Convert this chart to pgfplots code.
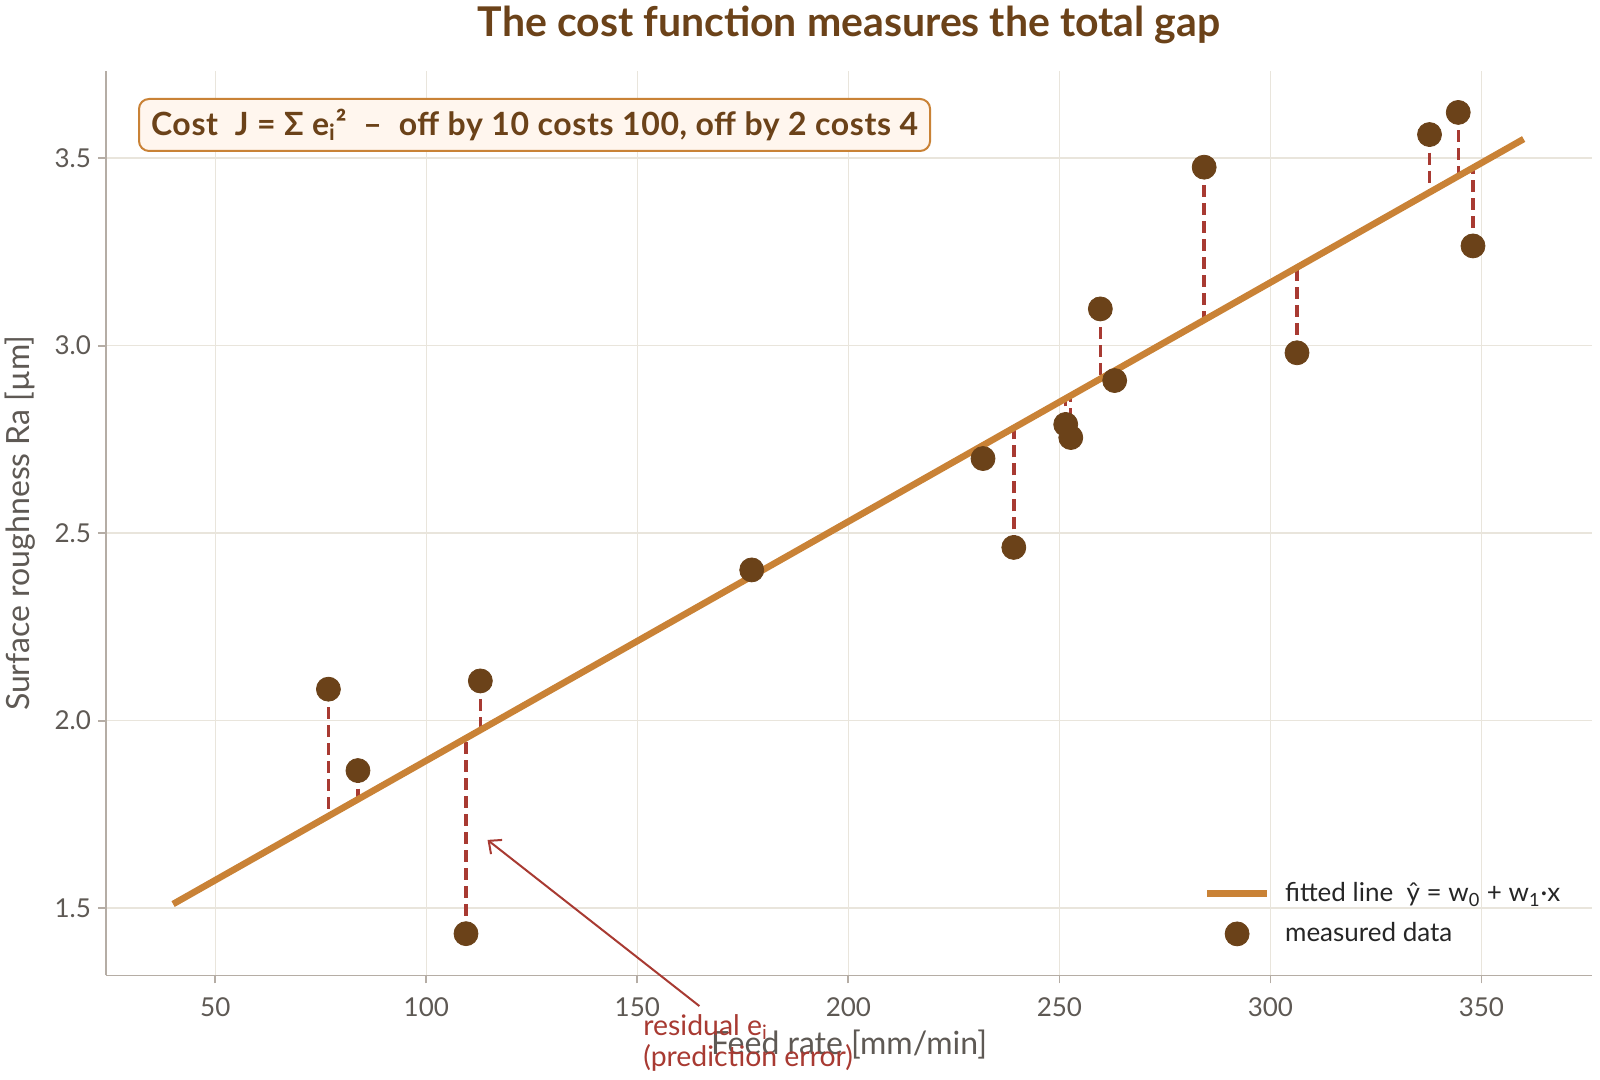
\documentclass[border=0pt]{standalone}
\usepackage{fontspec}
\setmainfont{Lato}
\usepackage{pgfplots}
\pgfplotsset{compat=1.18}
\usetikzlibrary{arrows.meta}

\definecolor{dotbrown}{HTML}{6B4219}
\definecolor{fitorange}{HTML}{C98236}
\definecolor{residred}{HTML}{A83A32}
\definecolor{gridc}{HTML}{E9E5DC}
\definecolor{spinec}{HTML}{B5ADA5}
\definecolor{tickc}{HTML}{5E5954}
\definecolor{boxfill}{HTML}{FFF6EE}

\pgfplotsset{
  linelegend/.style={legend image code/.code={\draw[##1] (0pt,0pt) -- (30pt,0pt); \path[draw=none,fill=none] (0pt,0pt) -- (37pt,0pt);}},
  dotlegend/.style={legend image code/.code={\draw[mark repeat=2,mark phase=2,##1] plot coordinates {(0pt,0pt)(15pt,0pt)(30pt,0pt)}; \path[draw=none,fill=none] (0pt,0pt) -- (37pt,0pt);}},
}

\begin{document}
\begin{tikzpicture}
\useasboundingbox (0,0) rectangle (800pt,540pt);
\begin{axis}[
  at={(53pt,52.25pt)}, anchor=south west,
  scale only axis, width=743pt, height=452.25pt,
  xmin=24.1, xmax=376.2, ymin=1.3205, ymax=3.7325,
  axis x line*=bottom, axis y line*=left,
  axis line style={spinec, line width=0.9pt},
  xtick={50,100,...,350},
  ytick={1.5,2.0,2.5,3.0,3.5},
  yticklabel style={/pgf/number format/.cd, fixed, fixed zerofill, precision=1},
  xticklabel style={yshift=-3.5pt},
  /pgf/number format/assume math mode=true,
  tick align=outside, major tick length=4pt,
  tick style={spinec, line width=0.9pt},
  ticklabel style={font=\fontsize{13}{15}\selectfont, text=tickc},
  grid=major, major grid style={gridc, line width=0.8pt},
  xlabel={Feed rate [mm/min]},
  ylabel={Surface roughness Ra [µm]},
  label style={font=\fontsize{16}{19}\selectfont, text=tickc},
  xlabel style={at={(axis description cs:0.5,-0.0768)}, anchor=center},
  ylabel style={at={(axis description cs:-0.0576,0.5)}, anchor=center},
  clip=false,
  legend style={draw=none, fill=none, at={(rel axis cs:0.7385,0.1075)}, anchor=north west,
    font=\fontsize{13}{16}\selectfont, text=black!85, inner sep=0pt,
    row sep=5pt, cells={anchor=west},
    /tikz/every even column/.append style={column sep=11pt}},
]
% residuals: measured value down/up to the fitted value
\addplot[residred, line width=1.7pt, dash pattern=on 6pt off 3pt, unbounded coords=jump, forget plot]
coordinates {
 (76.8,2.084) (76.8,1.746) (76.8,nan)
 (83.8,1.867) (83.8,1.790) (83.8,nan)
 (109.4,1.432) (109.4,1.953) (109.4,nan)
 (112.8,2.106) (112.8,1.975) (112.8,nan)
 (177.1,2.402) (177.1,2.385) (177.1,nan)
 (231.9,2.699) (231.9,2.734) (231.9,nan)
 (239.2,2.462) (239.2,2.781) (239.2,nan)
 (251.5,2.790) (251.5,2.859) (251.5,nan)
 (252.7,2.755) (252.7,2.867) (252.7,nan)
 (259.7,3.098) (259.7,2.912) (259.7,nan)
 (263.1,2.907) (263.1,2.933) (263.1,nan)
 (284.3,3.476) (284.3,3.068) (284.3,nan)
 (306.3,2.981) (306.3,3.209) (306.3,nan)
 (337.7,3.563) (337.7,3.409) (337.7,nan)
 (344.5,3.622) (344.5,3.452) (344.5,nan)
 (348.0,3.266) (348.0,3.475)
};
% fitted line
\addplot[fitorange, line width=3.3pt, linelegend]
coordinates {(40,1.511) (360,3.551)};
\addlegendentry{fitted line\ \ ŷ = w\textsubscript{0} + w\textsubscript{1}·x}
% measurements
\addplot[only marks, mark=*, mark size=6pt, mark options={fill=dotbrown, draw=dotbrown}, dotlegend]
coordinates {
 (76.8,2.084) (83.8,1.867) (109.4,1.432) (112.8,2.106) (177.1,2.402)
 (231.9,2.699) (239.2,2.462) (251.5,2.790) (252.7,2.755) (259.7,3.098)
 (263.1,2.907) (284.3,3.476) (306.3,2.981) (337.7,3.563) (344.5,3.622)
 (348.0,3.266)
};
\addlegendentry{measured data}
% pointer to the largest residual
\draw[residred, line width=1pt, -{Straight Barb[length=5pt,width=9pt]}]
  (axis cs:164.7,1.239) -- (axis cs:114.5,1.682);
\end{axis}
\node[anchor=north west, align=left, inner sep=0pt, text=residred,
  font=\fontsize{14.2}{15.5}\selectfont] at (321.5pt,33pt)
  {residual e\textsubscript{i}\\(prediction error)};
\node[font=\bfseries\fontsize{20.5}{24}\selectfont, text=dotbrown] at (424.5pt,527.5pt)
  {The cost function measures the total gap};
\node[anchor=west, draw=fitorange, fill=boxfill, line width=1pt, rounded corners=5pt,
  minimum height=26pt, inner xsep=6pt, text=dotbrown,
  font=\bfseries\fontsize{16}{18}\selectfont\addfontfeatures{LetterSpace=2}]
  at (69pt,477.5pt)
  {Cost\ \ J = Σ e\textsubscript{i}²\ \ –\ \ off by 10 costs 100, off by 2 costs 4};
\end{tikzpicture}
\end{document}
